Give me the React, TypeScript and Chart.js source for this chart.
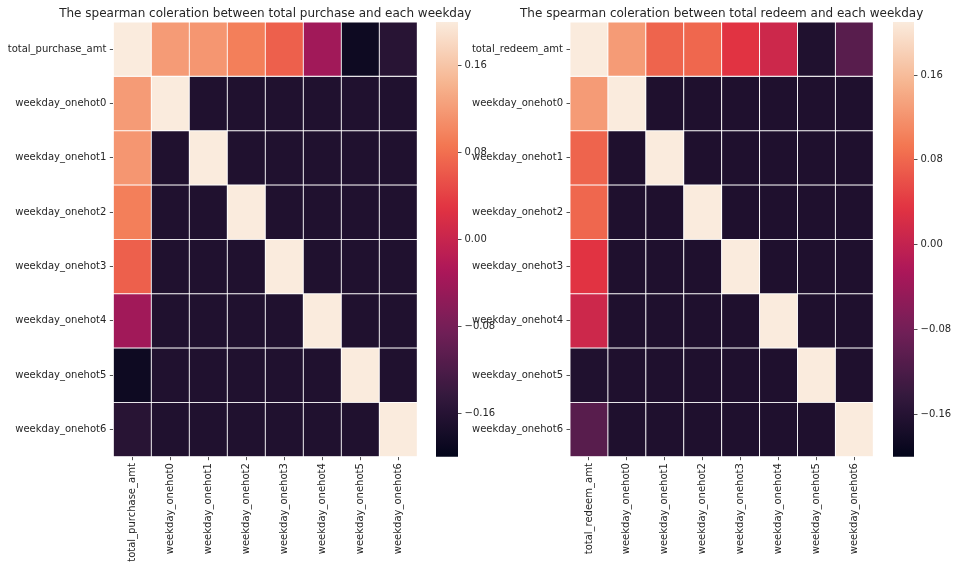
import React, { useEffect, useRef } from "react";
import { Chart, registerables } from "chart.js";

Chart.register(...registerables);

const purchaseLabels = [
  "total_purchase_amt",
  "weekday_onehot0",
  "weekday_onehot1",
  "weekday_onehot2",
  "weekday_onehot3",
  "weekday_onehot4",
  "weekday_onehot5",
  "weekday_onehot6",
];
const redeemLabels = [
  "total_redeem_amt",
  "weekday_onehot0",
  "weekday_onehot1",
  "weekday_onehot2",
  "weekday_onehot3",
  "weekday_onehot4",
  "weekday_onehot5",
  "weekday_onehot6",
];

const purchaseMatrix = [
  [1, 0.12, 0.115, 0.094, 0.067, -0.04, -0.187, -0.158],
  [0.12, 1, -0.167, -0.167, -0.167, -0.167, -0.167, -0.167],
  [0.115, -0.167, 1, -0.167, -0.167, -0.167, -0.167, -0.167],
  [0.094, -0.167, -0.167, 1, -0.167, -0.167, -0.167, -0.167],
  [0.067, -0.167, -0.167, -0.167, 1, -0.167, -0.167, -0.167],
  [-0.04, -0.167, -0.167, -0.167, -0.167, 1, -0.167, -0.167],
  [-0.187, -0.167, -0.167, -0.167, -0.167, -0.167, 1, -0.167],
  [-0.158, -0.167, -0.167, -0.167, -0.167, -0.167, -0.167, 1],
];

const redeemMatrix = [
  [1, 0.128, 0.077, 0.08, 0.034, 0.011, -0.166, -0.107],
  [0.128, 1, -0.167, -0.167, -0.167, -0.167, -0.167, -0.167],
  [0.077, -0.167, 1, -0.167, -0.167, -0.167, -0.167, -0.167],
  [0.08, -0.167, -0.167, 1, -0.167, -0.167, -0.167, -0.167],
  [0.034, -0.167, -0.167, -0.167, 1, -0.167, -0.167, -0.167],
  [0.011, -0.167, -0.167, -0.167, -0.167, 1, -0.167, -0.167],
  [-0.166, -0.167, -0.167, -0.167, -0.167, -0.167, 1, -0.167],
  [-0.107, -0.167, -0.167, -0.167, -0.167, -0.167, -0.167, 1],
];

const purchaseRange = [-0.2, 0.2];
const redeemRange = [-0.2, 0.21];
const colorbarTicks = [-0.16, -0.08, 0, 0.08, 0.16];

const purchaseTitle = "The spearman coleration between total purchase and each weekday";
const redeemTitle = "The spearman coleration between total redeem and each weekday";

// rocket colormap stops
const rocketStops: [number, number[]][] = [
  [0, [3, 5, 26]],
  [1 / 7, [53, 25, 62]],
  [2 / 7, [112, 31, 87]],
  [3 / 7, [173, 23, 89]],
  [4 / 7, [225, 51, 66]],
  [5 / 7, [243, 118, 81]],
  [6 / 7, [246, 180, 143]],
  [1, [250, 235, 221]],
];

function rocket(t: number): string {
  t = Math.max(0, Math.min(1, t));
  for (let i = 0; i < rocketStops.length - 1; i++) {
    const [t0, c0] = rocketStops[i];
    const [t1, c1] = rocketStops[i + 1];
    if (t <= t1) {
      const f = (t - t0) / (t1 - t0);
      const c = c0.map((v, k) => Math.round(v + (c1[k] - v) * f));
      return `rgb(${c[0]},${c[1]},${c[2]})`;
    }
  }
  const c = rocketStops[rocketStops.length - 1][1];
  return `rgb(${c[0]},${c[1]},${c[2]})`;
}

const TEXT = "#262626";
const FONT = { family: "'DejaVu Sans', sans-serif", size: 10 };

function fmtTick(v: number): string {
  if (Math.abs(v) < 1e-9) return "0.00";
  return (v < 0 ? "\u2212" : "") + Math.abs(v).toFixed(2);
}

function titlePlugin(text: string) {
  return {
    id: "customTitle",
    afterDraw(chart: any) {
      const { ctx, chartArea } = chart;
      ctx.save();
      ctx.font = "12px 'DejaVu Sans', sans-serif";
      ctx.fillStyle = TEXT;
      ctx.textAlign = "center";
      ctx.textBaseline = "alphabetic";
      ctx.fillText(text, (chartArea.left + chartArea.right) / 2, 17);
      ctx.restore();
    },
  };
}

function makeHeatmap(
  canvas: HTMLCanvasElement,
  matrix: number[][],
  labels: string[],
  title: string,
  range: number[],
  yAxisWidth: number,
  padRight: number
) {
  const [vmin, vmax] = range;
  const tickGrid = {
    display: true,
    drawOnChartArea: false,
    drawTicks: true,
    tickLength: 3.5,
    lineWidth: 0.8,
    color: TEXT,
    offset: false,
  };
  return new Chart(canvas, {
    type: "bar",
    data: {
      labels,
      datasets: matrix.map((row, r) => ({
        data: row.map(() => [r, r + 1]),
        backgroundColor: row.map((v) => rocket((v - vmin) / (vmax - vmin))),
        borderColor: "#ffffff",
        borderWidth: 0.8,
        borderSkipped: false,
        barPercentage: 1,
        categoryPercentage: 1,
        grouped: false,
      })),
    } as any,
    options: {
      responsive: false,
      animation: false,
      layout: { padding: { top: 22, right: padRight, left: 0, bottom: 0 } },
      plugins: {
        legend: { display: false },
        tooltip: { enabled: false },
        title: { display: false },
      },
      scales: {
        x: {
          type: "category",
          offset: true,
          grid: tickGrid,
          border: { display: false },
          ticks: {
            minRotation: 90,
            maxRotation: 90,
            autoSkip: false,
            padding: 3,
            color: TEXT,
            font: FONT,
          },
          afterFit: (s: any) => {
            s.height = 113.3;
          },
        },
        y: {
          type: "linear",
          min: 0,
          max: labels.length,
          reverse: true,
          grid: tickGrid,
          border: { display: false },
          afterBuildTicks: (s: any) => {
            s.ticks = labels.map((_, i) => ({ value: i + 0.5 }));
          },
          ticks: {
            autoSkip: false,
            padding: 3.5,
            color: TEXT,
            font: FONT,
            callback: (_v: any, i: number) => labels[i],
          },
          afterFit: (s: any) => {
            s.width = yAxisWidth;
          },
        },
      },
    } as any,
    plugins: [titlePlugin(title)],
  });
}

function makeColorbar(canvas: HTMLCanvasElement, range: number[], axisWidth: number) {
  const [vmin, vmax] = range;
  return new Chart(canvas, {
    type: "bar",
    data: {
      labels: [""],
      datasets: [
        {
          data: [[vmin, vmax]],
          backgroundColor: (c: any) => {
            const { chart } = c;
            const { ctx, chartArea, scales } = chart;
            if (!chartArea || !scales.y) return "transparent";
            const y0 = scales.y.getPixelForValue(vmin);
            const y1 = scales.y.getPixelForValue(vmax);
            const g = ctx.createLinearGradient(0, y0, 0, y1);
            for (let i = 0; i <= 64; i++) g.addColorStop(i / 64, rocket(i / 64));
            return g;
          },
          borderWidth: 0,
          barPercentage: 1,
          categoryPercentage: 1,
        },
      ],
    } as any,
    options: {
      responsive: false,
      animation: false,
      layout: { padding: { top: 22, bottom: 113.3, left: 0, right: 0 } },
      plugins: {
        legend: { display: false },
        tooltip: { enabled: false },
        title: { display: false },
      },
      scales: {
        x: { display: false },
        y: {
          position: "right",
          min: vmin,
          max: vmax,
          border: { display: false },
          grid: {
            drawOnChartArea: false,
            drawTicks: true,
            tickLength: 3.5,
            lineWidth: 0.8,
            color: TEXT,
          },
          afterBuildTicks: (s: any) => {
            s.ticks = colorbarTicks.map((v) => ({ value: v }));
          },
          ticks: {
            padding: 3,
            color: TEXT,
            font: FONT,
            autoSkip: false,
            callback: (v: any) => fmtTick(Number(v)),
          },
          afterFit: (s: any) => {
            s.width = axisWidth;
          },
        },
      },
    } as any,
  });
}

export default function App() {
  const leftRef = useRef<HTMLCanvasElement>(null);
  const leftCbRef = useRef<HTMLCanvasElement>(null);
  const rightRef = useRef<HTMLCanvasElement>(null);
  const rightCbRef = useRef<HTMLCanvasElement>(null);

  useEffect(() => {
    const charts: Chart[] = [];
    charts.push(
      makeHeatmap(leftRef.current!, purchaseMatrix, purchaseLabels, purchaseTitle, purchaseRange, 113.3, 62.7)
    );
    charts.push(makeColorbar(leftCbRef.current!, purchaseRange, 42));
    charts.push(
      makeHeatmap(rightRef.current!, redeemMatrix, redeemLabels, redeemTitle, redeemRange, 130, 85.7)
    );
    charts.push(makeColorbar(rightCbRef.current!, redeemRange, 45));
    return () => charts.forEach((c) => c.destroy());
  }, []);

  const abs = (left: number, width: number): React.CSSProperties => ({
    position: "absolute",
    left,
    top: 0,
    width,
    height: 570,
  });

  return (
    <div
      style={{
        position: "absolute",
        left: 0,
        top: 0,
        width: 959,
        height: 570,
        background: "#ffffff",
        overflow: "hidden",
      }}
    >
      <canvas ref={leftRef} width={480} height={570} style={abs(0, 480)} />
      <canvas ref={leftCbRef} width={64} height={570} style={abs(436, 64)} />
      <canvas ref={rightRef} width={519} height={570} style={abs(440, 519)} />
      <canvas ref={rightCbRef} width={66} height={570} style={abs(893, 66)} />
    </div>
  );
}
